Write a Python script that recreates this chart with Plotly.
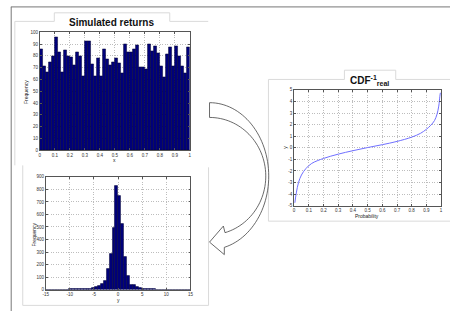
import numpy as np
import plotly.graph_objects as go

W, H = 453, 314

# ---------------- data ----------------
# Top histogram: simulated uniform returns, 50 bins over [0, 1]
uniform_bin_width = 0.02
uniform_counts = [86, 71, 66, 75, 80, 96, 83, 66, 85, 80,
                  79, 72, 83, 80, 63, 92, 92, 73, 63, 78,
                  63, 86, 77, 72, 75, 78, 74, 65, 90, 83,
                  83, 86, 89, 70, 70, 69, 90, 84, 88, 82,
                  71, 62, 81, 87, 71, 88, 80, 71, 65, 87]

# Bottom histogram: transformed returns, 50 bins over [-15, 15]
y_bin_start = -15.0
y_bin_width = 0.6
y_counts = [2, 0, 1, 0, 1, 2, 1, 2, 3, 4,
            8, 6, 4, 5, 7, 10, 14, 20, 30, 50,
            68, 162, 283, 493, 830, 746, 521, 262, 110, 42,
            35, 22, 14, 9, 7, 5, 4, 3, 2, 2,
            1, 1, 0, 1, 1, 2, 1, 0, 1, 0]

# Inverse CDF curve
cdf_prob = [0.005, 0.015, 0.03, 0.05, 0.08, 0.12, 0.2, 0.3, 0.4, 0.5, 0.6,
            0.7, 0.8, 0.86, 0.9, 0.93, 0.955, 0.972, 0.984, 0.991, 0.995]
cdf_y = [-4.75, -3.9, -3.0, -2.35, -1.8, -1.35, -0.92, -0.55, -0.25, 0.02, 0.27,
         0.55, 0.92, 1.25, 1.6, 1.95, 2.35, 2.9, 3.6, 4.4, 4.75]

top_xticks = [0, 0.1, 0.2, 0.3, 0.4, 0.5, 0.6, 0.7, 0.8, 0.9, 1]
top_yticks = [0, 10, 20, 30, 40, 50, 60, 70, 80, 90, 100]
bot_xticks = [-15, -10, -5, 0, 5, 10, 15]
bot_yticks = [0, 100, 200, 300, 400, 500, 600, 700, 800, 900]
cdf_xticks = top_xticks
cdf_yticks = [-5, -4, -3, -2, -1, 0, 1, 2, 3, 4, 5]

# ---------------- helpers ----------------
def px(x):
    return x / W

def py(y):
    return 1 - y / H

FONT = "Liberation Sans, Arial, sans-serif"
NAVY = "#00007a"

fig = go.Figure()

u_centers = (np.arange(len(uniform_counts)) + 0.5) * uniform_bin_width
fig.add_trace(go.Bar(x=u_centers, y=uniform_counts, width=uniform_bin_width,
                     marker=dict(color=NAVY, line=dict(color="#000030", width=0.5)),
                     xaxis="x", yaxis="y", showlegend=False))

y_centers = y_bin_start + (np.arange(len(y_counts)) + 0.5) * y_bin_width
fig.add_trace(go.Bar(x=y_centers, y=y_counts, width=y_bin_width,
                     marker=dict(color=NAVY, line=dict(color="#000030", width=0.5)),
                     xaxis="x2", yaxis="y2", showlegend=False))

fig.add_trace(go.Scatter(x=cdf_prob, y=cdf_y, mode="lines", line_shape="spline",
                         line=dict(color="#6f6fff", width=1),
                         xaxis="x3", yaxis="y3", showlegend=False))

def ax(domain, rng, ticks, anchor, fmt=None):
    return dict(domain=domain, range=rng, tickvals=ticks,
                ticktext=[(fmt(t) if fmt else str(t)) for t in ticks],
                anchor=anchor, showline=True, mirror="allticks",
                linecolor="#555", linewidth=0.8,
                ticks="inside", ticklen=2, tickwidth=0.6, tickcolor="#555",
                showgrid=True, gridcolor="#bdbdbd", griddash="1px,1.5px", gridwidth=0.6,
                zeroline=False, tickfont=dict(size=4.5, color="#333", family=FONT),
                fixedrange=True)

def dec(t):
    return ("%g" % t)

layout = dict(
    width=W, height=H, margin=dict(l=0, r=0, t=0, b=0),
    paper_bgcolor="white", plot_bgcolor="white", bargap=0,
    font=dict(family=FONT),
    xaxis=ax([px(37.3), px(189.3)], [0, 1], top_xticks, "y", dec),
    yaxis=ax([py(150.7), py(30.7)], [0, 100], top_yticks, "x"),
    xaxis2=ax([px(43.3), px(190)], [-15, 15], bot_xticks, "y2"),
    yaxis2=ax([py(292.3), py(177.7)], [0, 900], bot_yticks, "x2"),
    xaxis3=ax([px(295), px(444)], [0, 1], cdf_xticks, "y3", dec),
    yaxis3=ax([py(207), py(89.3)], [-5, 5], cdf_yticks, "x3"),
)
fig.update_layout(**layout)

# ---------------- decorative frames ----------------
shapes = []
def line(x0, y0, x1, y1, color="#dadada", width=1):
    shapes.append(dict(type="line", xref="paper", yref="paper",
                       x0=px(x0), y0=py(y0), x1=px(x1), y1=py(y1),
                       line=dict(color=color, width=width), layer="below"))

def poly(points, color="#dadada", width=1, fill=None, closed=False):
    d = "M " + " L ".join("%.5f,%.5f" % (px(a), py(b)) for a, b in points)
    if closed:
        d += " Z"
    s = dict(type="path", xref="paper", yref="paper", path=d,
             line=dict(color=color, width=width))
    if fill:
        s["fillcolor"] = fill
    shapes.append(s)

# outer border
line(8, 5, 453, 5, color="#777", width=1)
line(8.3, 5, 8.3, 314, color="#777", width=1)

# top panel with title tab
poly([(12, 166), (12, 19.7), (52, 19.7), (52, 11), (169, 11), (169, 19.7), (208, 19.7)])
# bottom panel
poly([(20, 166), (20, 308.3), (208.3, 308.3), (208.3, 168)])
# right panel with title tab
poly([(269, 222.7), (269, 78.7), (346, 78.7), (346, 69.3), (398, 69.3), (398, 78.7), (453, 78.7)])
line(269, 222.7, 453, 222.7)

# curved block arrow
cx, cy = 209.3, 177.0
t_out = np.linspace(-np.pi / 2, np.arccos((224.3 - cx) / 60.0), 60)
outer = [(cx + 60.0 * np.cos(t), cy + 74.7 * np.sin(t)) for t in t_out]
t_in = np.linspace(np.arccos((225.0 - cx) / 57.0), -np.pi / 2, 60)
inner = [(cx + 57.0 * np.cos(t), cy + 59.7 * np.sin(t)) for t in t_in]
arrow = outer + [(224.3, 256.7), (209.3, 244.0), (223.3, 227.7)] + inner
poly(arrow, color="#444", width=0.8, fill="white", closed=True)

fig.update_layout(shapes=shapes)

# ---------------- texts ----------------
ann = []
def text(x, y, s, size=5, bold=False, angle=0, color="#222"):
    ann.append(dict(x=px(x), y=py(y), xref="paper", yref="paper", text=s,
                    showarrow=False, textangle=angle, xanchor="center", yanchor="middle",
                    font=dict(size=size, family=FONT, color=color,
                              weight="bold" if bold else "normal")))

text(110, 21, "Simulated returns", size=10, bold=True, color="#111")
text(371, 79.5, "CDF<sup>-1</sup><sub>real</sub>", size=10, bold=True, color="#111")
text(22.7, 91, "Frequency", size=5, angle=-90)
text(112.7, 161, "x", size=5)
text(31, 236.7, "Frequency", size=5, angle=-90)
text(116.7, 302.7, "y", size=5)
text(369, 217, "Probability", size=5)
text(285, 148, "y", size=5, angle=-90)
fig.update_layout(annotations=ann)

fig.write_html("out.html", config={"displayModeBar": False},
               post_script="document.body.style.margin='0';document.body.style.padding='0';")
